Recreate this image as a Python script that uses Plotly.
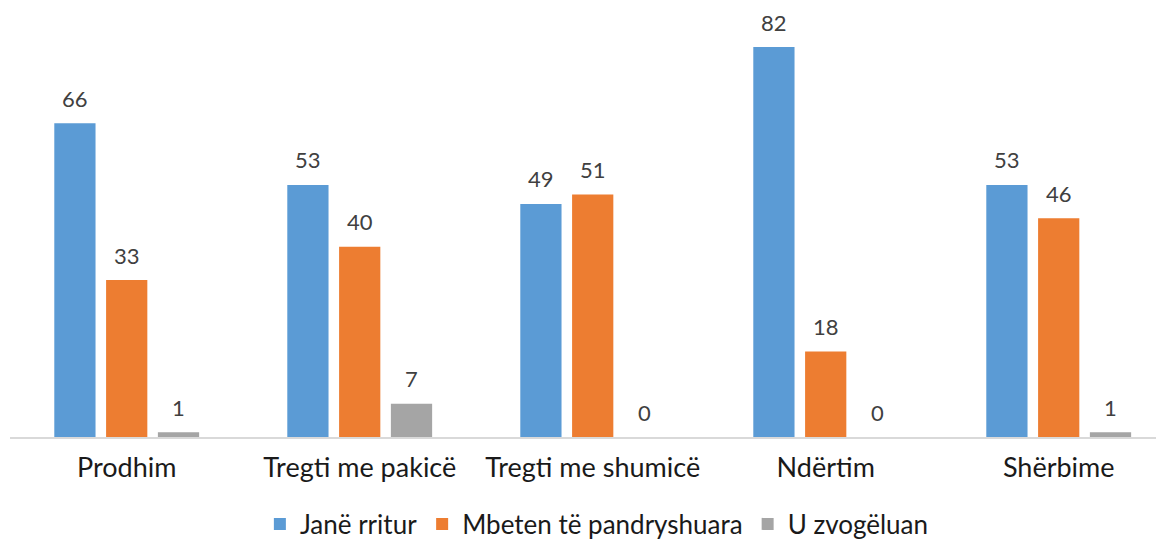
import plotly.graph_objects as go

categories = ["Prodhim", "Tregti me pakicë", "Tregti me shumicë", "Ndërtim", "Shërbime"]
series_names = ["Janë rritur", "Mbeten të pandryshuara", "U zvogëluan"]
jane_rritur = [66, 53, 49, 82, 53]
mbeten = [33, 40, 51, 18, 46]
zvogeluan = [1, 7, 0, 0, 1]
colors = ["#5B9BD5", "#ED7D31", "#A5A5A5"]

series = [jane_rritur, mbeten, zvogeluan]
FONT = "Lato"
slot = 0.2223
bw = 0.177

# the page body adds an 8px margin; the figure is sized to compensate
W, H = 1156, 532

fig = go.Figure()
annotations = []
for k, (name, vals, col) in enumerate(zip(series_names, series, colors)):
    xs = [i + (k - 1) * slot for i in range(len(categories))]
    fig.add_trace(go.Bar(
        x=xs, y=vals, width=bw, name=name, marker_color=col,
        marker_line_width=0, hoverinfo="skip"))
    for x, v in zip(xs, vals):
        annotations.append(dict(
            x=x, y=v, xref="x", yref="y", text=str(v), showarrow=False,
            yanchor="middle", yshift=25,
            font=dict(family=FONT, size=22, color="#404040")))

fig.update_layout(
    width=W, height=H,
    margin=dict(l=2, r=1, t=1, b=103, autoexpand=False),
    paper_bgcolor="white", plot_bgcolor="white",
    barmode="overlay",
    font=dict(family=FONT, size=27, color="#1a1a1a"),
    annotations=annotations,
    showlegend=True,
    legend=dict(orientation="h", x=0.509, xanchor="center",
                yref="container", y=1 - 516 / H, yanchor="middle",
                font=dict(family=FONT, size=26, color="#1a1a1a"),
                tracegroupgap=0, traceorder="normal"),
    xaxis=dict(range=[-0.5009, 4.4476], tickmode="array",
               tickvals=list(range(len(categories))), ticktext=categories,
               showline=True, linecolor="#D9D9D9", linewidth=2,
               showgrid=False, zeroline=False, ticks="", automargin=False,
               ticklabelstandoff=6,
               tickfont=dict(family=FONT, size=27, color="#1a1a1a")),
    yaxis=dict(range=[0, 90], visible=False, showgrid=False, zeroline=False,
               automargin=False),
)

fig.write_html("out.html")
